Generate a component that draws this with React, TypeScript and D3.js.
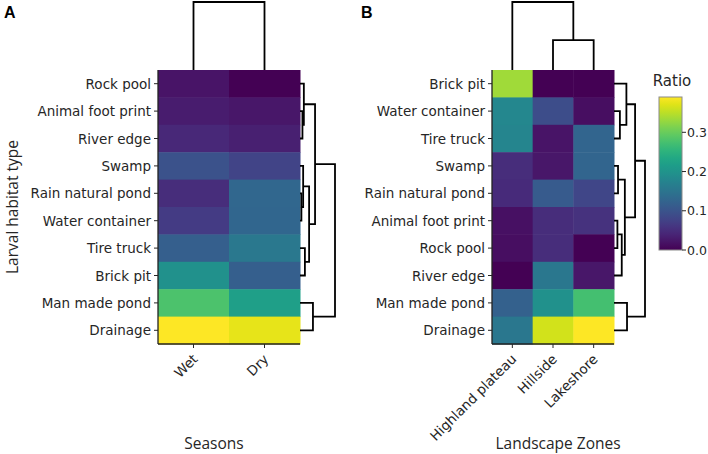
import React from "react";
import * as d3 from "d3";

// ---------------- DATA ----------------
const rowsA = ["Rock pool", "Animal foot print", "River edge", "Swamp", "Rain natural pond", "Water container", "Tire truck", "Brick pit", "Man made pond", "Drainage"];
const colsA = ["Wet", "Dry"];
const wetA = [0.02, 0.03, 0.043, 0.098, 0.05, 0.068, 0.117, 0.195, 0.28, 0.39];
const dryA = [0.0, 0.023, 0.035, 0.078, 0.129, 0.127, 0.156, 0.117, 0.218, 0.375];

const rowsB = ["Brick pit", "Water container", "Tire truck", "Swamp", "Rain natural pond", "Animal foot print", "Rock pool", "River edge", "Man made pond", "Drainage"];
const colsB = ["Highland plateau", "Hillside", "Lakeshore"];
const highlandB = [0.335, 0.18, 0.178, 0.05, 0.047, 0.016, 0.014, 0.0, 0.12, 0.155];
const hillsideB = [0.0, 0.09, 0.02, 0.024, 0.11, 0.05, 0.05, 0.155, 0.195, 0.363];
const lakeshoreB = [0.0, 0.015, 0.125, 0.125, 0.082, 0.055, 0.0, 0.024, 0.273, 0.39];

// linkage: [childA, childB, height]; ids >= nLeaves refer to earlier merges
const rowLinkA: [number, number, number][] = [
  [1, 2, 0.07], [0, 10, 0.11], [4, 5, 0.04], [3, 12, 0.09], [6, 7, 0.14],
  [13, 14, 0.26], [11, 15, 0.43], [8, 9, 0.37], [16, 17, 1.0],
];
const colLinkA: [number, number, number][] = [[0, 1, 1.0]];
const rowLinkB: [number, number, number][] = [
  [1, 2, 0.19], [0, 10, 0.4], [3, 4, 0.13], [5, 6, 0.11], [13, 7, 0.25],
  [12, 14, 0.35], [11, 15, 0.68], [8, 9, 0.42], [16, 17, 1.0],
];
const colLinkB: [number, number, number][] = [[1, 2, 0.44], [0, 3, 1.0]];

const colorTicks = [0.0, 0.1, 0.2, 0.3];
const vMax = 0.39;

// ---------------- HELPERS ----------------
const color = d3.scaleSequential(d3.interpolateViridis).domain([0, vMax]);
const LABEL_FONT = "DejaVu Sans, sans-serif";
const TITLE_FONT = "'Open Sans', 'Noto Sans', sans-serif";
const TXT = "#262626";

function dendroPaths(
  link: [number, number, number][],
  nLeaves: number,
  leafPos: (i: number) => number,
  hScale: (h: number) => number,
  orient: "right" | "top"
) {
  const pos: number[] = [];
  const ht: number[] = [];
  for (let i = 0; i < nLeaves; i++) { pos[i] = leafPos(i); ht[i] = 0; }
  const paths: string[] = [];
  link.forEach(([a, b, h], k) => {
    const id = nLeaves + k;
    pos[id] = (pos[a] + pos[b]) / 2;
    ht[id] = h;
    if (orient === "right") {
      paths.push(`M${hScale(ht[a])},${pos[a]}H${hScale(h)}V${pos[b]}H${hScale(ht[b])}`);
    } else {
      paths.push(`M${pos[a]},${hScale(ht[a])}V${hScale(h)}H${pos[b]}V${hScale(ht[b])}`);
    }
  });
  return paths;
}

type PanelProps = {
  rows: string[];
  cols: string[];
  values: number[][]; // per column
  x0: number; x1: number; y0: number; y1: number;
  rowLink: [number, number, number][];
  colLink: [number, number, number][];
  rowDendroW: number;
  colDendroTop: number;
  xTitle: string;
  xTitleX: number;
};

function Panel(p: PanelProps) {
  const x = d3.scaleBand<string>().domain(p.cols).range([p.x0, p.x1]);
  const y = d3.scaleBand<string>().domain(p.rows).range([p.y0, p.y1]);
  const hx = d3.scaleLinear().domain([0, 1]).range([p.x1, p.x1 + p.rowDendroW]);
  const hy = d3.scaleLinear().domain([0, 1]).range([p.y0, p.colDendroTop]);
  const rPaths = dendroPaths(p.rowLink, p.rows.length, (i) => y(p.rows[i])! + y.bandwidth() / 2, hx, "right");
  const cPaths = dendroPaths(p.colLink, p.cols.length, (i) => x(p.cols[i])! + x.bandwidth() / 2, hy, "top");
  return (
    <g>
      {p.cols.map((c, ci) =>
        p.rows.map((r, ri) => (
          <rect key={c + r} x={x(c)!} y={y(r)!} width={x.bandwidth() + 0.5} height={y.bandwidth() + 0.5}
            fill={color(p.values[ci][ri])} />
        ))
      )}
      <line x1={p.x0} x2={p.x0} y1={p.y0} y2={p.y1} stroke="#222" strokeWidth={1.3} />
      <line x1={p.x0} x2={p.x1} y1={p.y1} y2={p.y1} stroke="#222" strokeWidth={1.3} />
      {p.rows.map((r) => {
        const cy = y(r)! + y.bandwidth() / 2;
        return (
          <g key={r}>
            <line x1={p.x0 - 4} x2={p.x0} y1={cy} y2={cy} stroke={TXT} strokeWidth={1} />
            <text x={p.x0 - 7} y={cy} textAnchor="end" dominantBaseline="central"
              fontFamily={LABEL_FONT} fontSize={13.5} fill={TXT}>{r}</text>
          </g>
        );
      })}
      {p.cols.map((c) => {
        const cx = x(c)! + x.bandwidth() / 2;
        return (
          <g key={c}>
            <line x1={cx} x2={cx} y1={p.y1} y2={p.y1 + 4} stroke={TXT} strokeWidth={1} />
            <text transform={`translate(${cx + 5},${p.y1 + 16}) rotate(-45)`} textAnchor="end"
              fontFamily={LABEL_FONT} fontSize={13.5} fill={TXT}>{c}</text>
          </g>
        );
      })}
      {rPaths.map((d, i) => <path key={"r" + i} d={d} fill="none" stroke="#000" strokeWidth={1.8} />)}
      {cPaths.map((d, i) => <path key={"c" + i} d={d} fill="none" stroke="#000" strokeWidth={1.8} />)}
      <text x={p.xTitleX} y={449} textAnchor="middle" fontFamily={TITLE_FONT} fontSize={15.5} fill={TXT}>{p.xTitle}</text>
    </g>
  );
}

function ColorBar() {
  const top = 97, bottom = 250, left = 659, right = 682;
  const s = d3.scaleLinear().domain([0, vMax]).range([bottom, top]);
  const stops = d3.range(0, 1.0001, 0.05);
  return (
    <g>
      <defs>
        <linearGradient id="vir" x1="0" y1="1" x2="0" y2="0">
          {stops.map((t) => <stop key={t} offset={`${t * 100}%`} stopColor={d3.interpolateViridis(t)} />)}
        </linearGradient>
      </defs>
      <text x={672} y={86} textAnchor="middle" fontFamily={LABEL_FONT} fontSize={15} fill={TXT}>Ratio</text>
      <rect x={left} y={top} width={right - left} height={bottom - top} fill="url(#vir)" stroke="#8a8a8a" strokeWidth={1} />
      {colorTicks.map((t) => (
        <g key={t}>
          <line x1={right} x2={right + 4} y1={s(t)} y2={s(t)} stroke={TXT} strokeWidth={1} />
          <text x={right + 5} y={s(t)} dominantBaseline="central" fontFamily={LABEL_FONT} fontSize={12.5} fill={TXT}>
            {t.toFixed(1)}
          </text>
        </g>
      ))}
    </g>
  );
}

export default function App() {
  return (
    <svg width={708} height={454} style={{ position: "absolute", left: 0, top: 0, background: "#fff" }}>
      <rect width={708} height={454} fill="#fff" />
      <text x={4} y={18} fontFamily="'Liberation Sans', Arial, sans-serif" fontWeight="bold" fontSize={16} fill="#000">A</text>
      <text x={361} y={18} fontFamily="'Liberation Sans', Arial, sans-serif" fontWeight="bold" fontSize={16} fill="#000">B</text>
      <text transform="translate(18,207) rotate(-90)" textAnchor="middle" fontFamily={TITLE_FONT} fontSize={15.5} fill={TXT}>
        Larval habitat type
      </text>
      <Panel rows={rowsA} cols={colsA} values={[wetA, dryA]} x0={158} x1={300} y0={70} y1={344}
        rowLink={rowLinkA} colLink={colLinkA} rowDendroW={35} colDendroTop={2}
        xTitle="Seasons" xTitleX={214} />
      <Panel rows={rowsB} cols={colsB} values={[highlandB, hillsideB, lakeshoreB]} x0={492} x1={614} y0={70} y1={344}
        rowLink={rowLinkB} colLink={colLinkB} rowDendroW={31} colDendroTop={2}
        xTitle="Landscape Zones" xTitleX={558} />
      <ColorBar />
    </svg>
  );
}
